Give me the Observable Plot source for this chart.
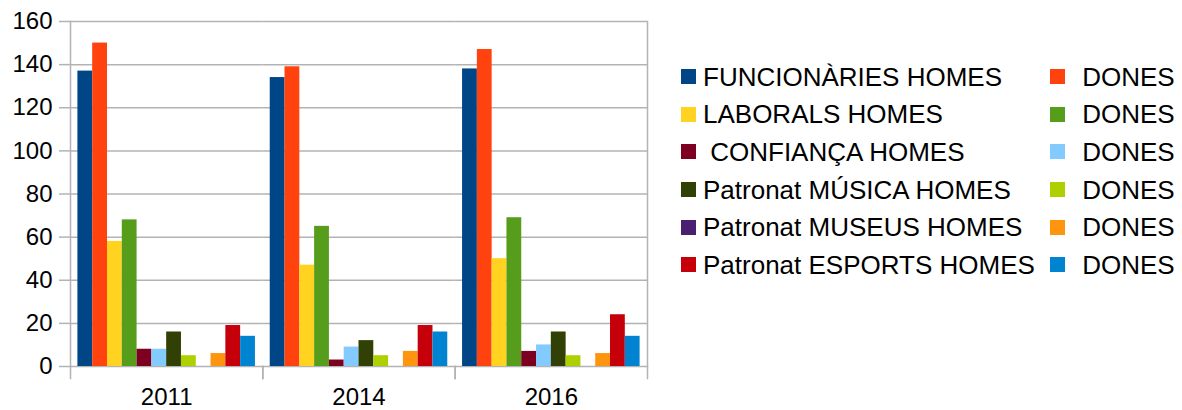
<!DOCTYPE html>
<html><head><meta charset="utf-8">
<script src="https://cdn.jsdelivr.net/npm/d3@7"></script>
<script src="https://cdn.jsdelivr.net/npm/@observablehq/plot@0.6"></script>
<style>
body{margin:0;background:#fff;font-family:"Liberation Sans",Arial,sans-serif;}
#wrap{position:relative;width:1182px;height:410px;}
.item{position:absolute;display:flex;align-items:center;height:28px;font-size:26px;line-height:28px;color:#000;white-space:pre;}
.sw{width:15px;height:15px;flex:none;}
</style></head><body><div id="wrap"></div>
<script>
const years = ["2011", "2014", "2016"];
const series = [
  "FUNCIONÀRIES HOMES", "FUNCIONÀRIES DONES",
  "LABORALS HOMES", "LABORALS DONES",
  "CONFIANÇA HOMES", "CONFIANÇA DONES",
  "Patronat MÚSICA HOMES", "Patronat MÚSICA DONES",
  "Patronat MUSEUS HOMES", "Patronat MUSEUS DONES",
  "Patronat ESPORTS HOMES", "Patronat ESPORTS DONES"
];
const legendLabels = [
  "FUNCIONÀRIES HOMES", " DONES",
  "LABORALS HOMES", " DONES",
  " CONFIANÇA HOMES", " DONES",
  "Patronat MÚSICA HOMES", " DONES",
  "Patronat MUSEUS HOMES", " DONES",
  "Patronat ESPORTS HOMES", " DONES"
];
const colors = [
  "#004586", "#ff420e", "#ffd320", "#579d1c", "#7e0021", "#83caff",
  "#314004", "#aecf00", "#4b1f6f", "#ff950e", "#c5000b", "#0084d1"
];
// values per series, for 2011, 2014, 2016
const funcHomes = [137, 134, 138];
const funcDones = [150, 139, 147];
const labHomes = [58, 47, 50];
const labDones = [68, 65, 69];
const confHomes = [8, 3, 7];
const confDones = [8, 9, 10];
const musicaHomes = [16, 12, 16];
const musicaDones = [5, 5, 5];
const museusHomes = [0, 0, 0];
const museusDones = [6, 7, 6];
const esportsHomes = [19, 19, 24];
const esportsDones = [14, 16, 14];
const yTicks = [0, 20, 40, 60, 80, 100, 120, 140, 160];

const values = [funcHomes, funcDones, labHomes, labDones, confHomes, confDones,
  musicaHomes, musicaDones, museusHomes, museusDones, esportsHomes, esportsDones];
const data = series.flatMap((s, i) => years.map((y, j) => ({year: y, series: s, value: values[i][j]})));

const W = 1182, H = 410, mT = 21, mB = 44, mL = 70, mR = 535;
const grey = "#b3b3b3";

const chart = Plot.plot({
  width: W, height: H,
  marginLeft: mL, marginRight: mR, marginTop: mT, marginBottom: mB,
  style: {fontFamily: "'Liberation Sans', Arial, sans-serif", fontSize: "24px", color: "#000", background: "#fff"},
  fx: {domain: years, padding: 0, round: false, label: null},
  x: {type: "band", domain: series, paddingInner: 0, paddingOuter: 0.5, round: false, axis: null},
  y: {domain: [0, 160], label: null},
  color: {domain: series, range: colors},
  marks: [
    Plot.gridY(yTicks, {stroke: grey, strokeOpacity: 1, strokeWidth: 1.5}),
    Plot.frame({anchor: "left", facetAnchor: "left", stroke: grey, strokeWidth: 1.5}),
    Plot.frame({anchor: "right", facetAnchor: "right", stroke: grey, strokeWidth: 1.5}),
    Plot.frame({anchor: "left", insetTop: H - mT - mB, insetBottom: -12, stroke: grey, strokeWidth: 1.5}),
    Plot.frame({anchor: "right", insetTop: H - mT - mB, insetBottom: -12, stroke: grey, strokeWidth: 1.5}),
    Plot.barY(data, {fx: "year", x: "series", y: "value", fill: "series"}),
    Plot.axisY(yTicks, {tickSize: 11, tickPadding: 7, stroke: grey, strokeWidth: 1.5, fill: "#000", fontSize: 24, label: null}),
    Plot.axisFx({anchor: "bottom", tickSize: 0, tickPadding: 21, fontSize: 24, fill: "#000", label: null})
  ]
});

const wrap = document.getElementById("wrap");
wrap.appendChild(chart);

series.forEach((s, i) => {
  const row = Math.floor(i / 2), col = i % 2;
  const item = document.createElement("div");
  item.className = "item";
  item.style.left = (col === 0 ? 681 : 1050) + "px";
  item.style.top = (76.7 + 37.6 * row - 14) + "px";
  const sw = document.createElement("div");
  sw.className = "sw";
  sw.style.background = colors[i];
  sw.style.marginRight = (col === 0 ? 7 : 10) + "px";
  const t = document.createElement("span");
  t.textContent = legendLabels[i];
  item.appendChild(sw);
  item.appendChild(t);
  wrap.appendChild(item);
});
</script>
</body></html>
